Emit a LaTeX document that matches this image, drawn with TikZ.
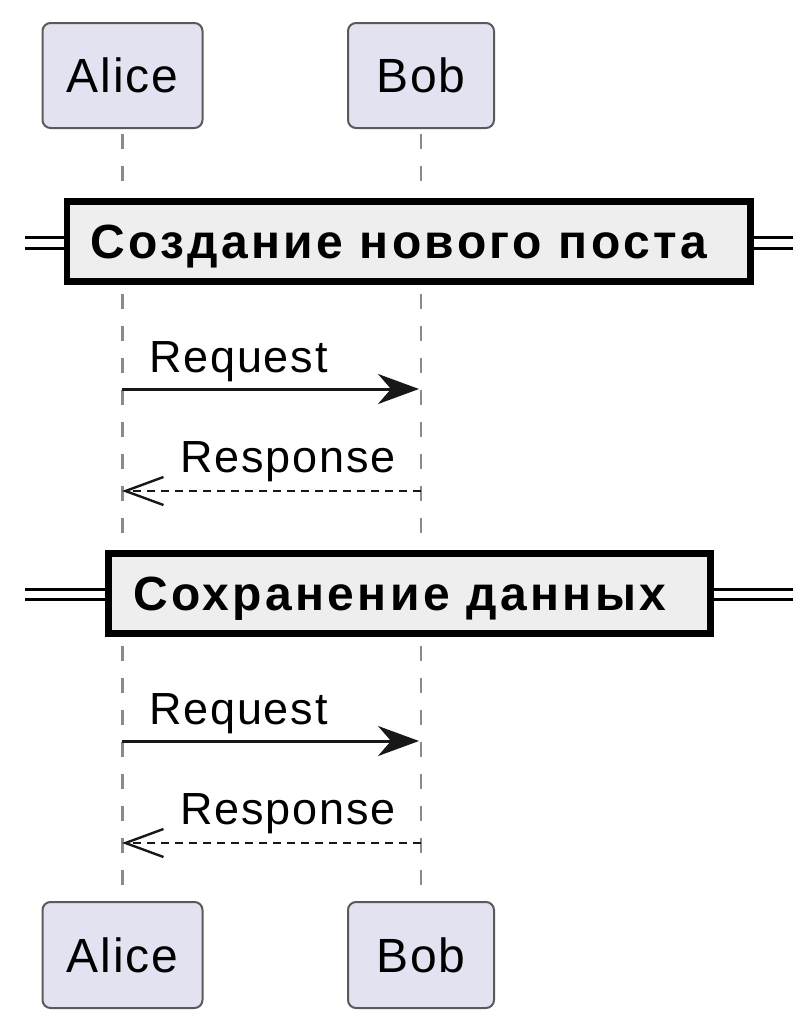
\documentclass[tikz,border=0pt]{standalone}
\usepackage{fontspec}
\setmainfont{Liberation Sans}
\newfontfamily\msgfont[LetterSpace=4]{Liberation Sans}
\newfontfamily\partfont[LetterSpace=4]{Liberation Sans}
\newfontfamily\divfont[LetterSpace=7]{Liberation Sans}
\usetikzlibrary{arrows.meta}
\definecolor{partfill}{HTML}{E2E2F0}
\definecolor{partdraw}{HTML}{5A5A5A}
\definecolor{lifegray}{HTML}{8A8A8A}
\definecolor{divfill}{HTML}{EEEEEE}
\definecolor{ink}{HTML}{181818}
\tikzset{
  part/.style={draw=partdraw, fill=partfill, line width=2pt, rounded corners=8pt,
    inner sep=0pt, font=\partfont\fontsize{48}{56}\selectfont, text=black},
  lifeline/.style={draw=lifegray, line width=2.4pt, dash pattern=on 15pt off 17pt},
  msg/.style={draw=ink, line width=3pt},
  msgdash/.style={draw=ink, line width=2.4pt, dash pattern=on 8pt off 6pt},
  msglabel/.style={inner sep=0pt, font=\msgfont\fontsize{45}{52}\selectfont, text=black},
  divbox/.style={draw=black, fill=divfill, line width=6.5pt, inner sep=0pt},
  divlabel/.style={inner sep=0pt, font=\divfont\bfseries\fontsize{48}{56}\selectfont, text=black},
  dline/.style={draw=black, line width=3pt, double=white, double distance=7.6pt},
}
\begin{document}
\begin{tikzpicture}[x=1pt,y=-1pt]
\useasboundingbox (0,0) rectangle (809,1029);
% participants
\node[part, minimum width=160pt, minimum height=105pt] (at) at (122.5,75.5) {Alice};
\node[part, minimum width=146pt, minimum height=105pt] (bt) at (421,75.5) {Bob};
\node[part, minimum width=160pt, minimum height=106pt] (ab) at (122.5,955) {Alice};
\node[part, minimum width=146pt, minimum height=106pt] (bb) at (421,955) {Bob};
% lifelines
\draw[lifeline] ([yshift=-5pt]at.south) -- (ab.north);
\draw[lifeline] ([yshift=-5pt]bt.south) -- (bb.north);
% divider 1
\coordinate (d1l) at (25,243);
\coordinate (d1r) at (793,243);
\node[divbox, minimum width=683.5pt, minimum height=80pt] (d1) at (408.75,241.5) {};
\draw[dline] (d1l) -- (d1l -| d1.west);
\draw[dline] (d1r -| d1.east) -- (d1r);
\node[divlabel, anchor=base west] (d1t) at (90,258) {Создание нового поста};
% messages 1
\coordinate (m1a) at (122,389);
\coordinate (m1b) at (419,389);
\coordinate (m2a) at (122,491);
\coordinate (m2b) at (421,491);
\draw[msg, -{Stealth[length=41pt,width=30pt,inset=13pt]}] (m1a) -- (m1b);
\node[msglabel, anchor=base west] (l1) at (149,372) {Request};
\draw[msgdash, -{Straight Barb[length=38pt,width=28pt,line width=2.4pt]}] (m2b) -- (m2a);
\node[msglabel, anchor=base east] (l2) at (396,472) {Response};
% divider 2
\coordinate (d2l) at (25,594.5);
\coordinate (d2r) at (793,594.5);
\node[divbox, minimum width=602pt, minimum height=80pt] (d2) at (409.5,593.5) {};
\draw[dline] (d2l) -- (d2l -| d2.west);
\draw[dline] (d2r -| d2.east) -- (d2r);
\node[divlabel, anchor=base west] (d2t) at (133,610) {Сохранение данных};
% messages 2
\coordinate (m3a) at (122,741);
\coordinate (m3b) at (419,741);
\coordinate (m4a) at (122,843);
\coordinate (m4b) at (421,843);
\draw[msg, -{Stealth[length=41pt,width=30pt,inset=13pt]}] (m3a) -- (m3b);
\node[msglabel, anchor=base west] (l3) at (149,724) {Request};
\draw[msgdash, -{Straight Barb[length=38pt,width=28pt,line width=2.4pt]}] (m4b) -- (m4a);
\node[msglabel, anchor=base east] (l4) at (396,824) {Response};
\end{tikzpicture}
\end{document}
